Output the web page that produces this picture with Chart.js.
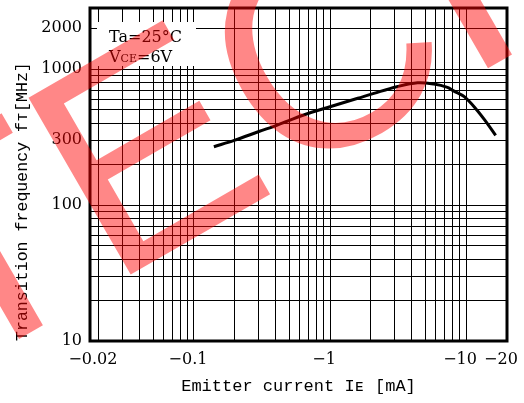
<!DOCTYPE html>
<html lang="es">
<head>
<meta charset="utf-8">
<title>fT vs IE</title>
<script src="https://cdn.jsdelivr.net/npm/chart.js@4.4.1/dist/chart.umd.min.js"></script>
<style>
  html, body { margin: 0; padding: 0; background: #fff; }
  #grafico { display: block; }
</style>
</head>
<body>
<canvas id="grafico" width="524" height="403"></canvas>
<script>
// Frecuencia de transición fT frente a corriente de emisor IE (Ta=25°C, VCE=6V).

// Corriente de emisor |IE| en mA (el eje la muestra con signo negativo).
const corrienteEmisor = [0.14, 0.2, 0.3, 0.41, 0.64, 1.0, 1.6, 2.1, 3.1, 4.4, 5.8, 7.3, 8.1, 9.7, 12, 14, 16.5];
// Frecuencia de transición en MHz.
const frecuenciaT = [268, 300, 347, 387, 459, 528, 609, 662, 741, 793, 776, 733, 690, 626, 500, 410, 325];

// Rejilla y etiquetas de los ejes.
const rejillaX = [0.02, 0.03, 0.04, 0.05, 0.06, 0.07, 0.08, 0.09, 0.1,
                  0.2, 0.3, 0.4, 0.5, 0.6, 0.7, 0.8, 0.9, 1,
                  2, 3, 4, 5, 6, 7, 8, 9, 10, 20];
const etiquetasX = [0.02, 0.1, 1, 10, 20];
const rejillaY = [10, 20, 30, 40, 50, 60, 70, 80, 90, 100,
                  200, 300, 400, 500, 600, 700, 800, 900, 1000, 2000];
const etiquetasY = [10, 100, 300, 1000, 2000];
const rangoX = [0.0172, 20];
const rangoY = [10, 2810];

const FUENTE_NUM = '"DejaVu Serif", serif';
const FUENTE_TIT = '"Liberation Mono", monospace';

// Marco grueso, recuadro con las condiciones de medida.
const marcoYLeyenda = {
  id: "marcoYLeyenda",
  beforeDatasetsDraw(chart) {
    const { ctx, chartArea: a } = chart;
    ctx.save();
    ctx.fillStyle = "#fff";
    ctx.fillRect(97, 22, 99, 44);

    ctx.fillStyle = "#000";
    ctx.textBaseline = "alphabetic";
    ctx.font = "16px " + FUENTE_NUM;
    ctx.fillText("Ta=25°C", 109, 42);
    let x = 109;
    ctx.fillText("V", x, 62);
    x += ctx.measureText("V").width;
    ctx.font = "11px " + FUENTE_NUM;
    ctx.fillText("CE", x, 62);
    x += ctx.measureText("CE").width;
    ctx.font = "16px " + FUENTE_NUM;
    ctx.fillText("=6V", x, 62);

    ctx.strokeStyle = "#000";
    ctx.lineWidth = 3;
    ctx.strokeRect(a.left, a.top, a.right - a.left, a.bottom - a.top);
    ctx.restore();
  },
};

// Sello rojo semitransparente encima del gráfico.
const marcaAgua = {
  id: "marcaAgua",
  afterDraw(chart) {
    const ctx = chart.ctx;
    ctx.save();
    ctx.translate(109.6, 286.8);
    ctx.rotate(-Math.PI / 6);
    ctx.font = '297px "Liberation Sans", Arial, sans-serif';
    ctx.fillStyle = "rgba(255,0,0,0.47)";
    ctx.textBaseline = "alphabetic";
    ctx.fillText("TECH", -ctx.measureText("T").width, 0);
    ctx.restore();
  },
};

const ctx = document.getElementById("grafico").getContext("2d");
new Chart(ctx, {
  type: "line",
  data: {
    datasets: [{
      data: corrienteEmisor.map((x, i) => ({ x, y: frecuenciaT[i] })),
      borderColor: "#000",
      borderWidth: 3,
      pointRadius: 0,
      tension: 0.35,
      fill: false,
    }],
  },
  options: {
    responsive: false,
    animation: false,
    devicePixelRatio: 1,
    layout: { padding: { top: 8, right: 17, left: 0, bottom: 0 } },
    plugins: { legend: { display: false }, tooltip: { enabled: false } },
    scales: {
      x: {
        type: "logarithmic",
        min: rangoX[0],
        max: rangoX[1],
        afterBuildTicks: (s) => { s.ticks = rejillaX.map((v) => ({ value: v })); },
        afterFit: (s) => {
          s.height = 62;
          s.paddingLeft = 0;
          s.paddingRight = 0;
        },
        grid: { color: "#000", lineWidth: 1, drawTicks: false },
        border: { display: false },
        ticks: {
          autoSkip: false,
          maxRotation: 0,
          minRotation: 0,
          padding: 9,
          labelOffset: -6,
          color: "#000",
          font: { family: FUENTE_NUM, size: 16 },
          callback: (v) => (etiquetasX.includes(v) ? "\u2212" + v : ""),
        },
        title: {
          display: true,
          text: "Emitter current I\u1D07 [mA]",
          color: "#000",
          font: { family: FUENTE_TIT, size: 17 },
          padding: { top: 0, bottom: 6 },
        },
      },
      y: {
        type: "logarithmic",
        min: rangoY[0],
        max: rangoY[1],
        afterBuildTicks: (s) => { s.ticks = rejillaY.map((v) => ({ value: v })); },
        afterFit: (s) => {
          s.width = 90;
          s.paddingTop = 0;
          s.paddingBottom = 0;
        },
        grid: { color: "#000", lineWidth: 1, drawTicks: false },
        border: { display: false },
        ticks: {
          autoSkip: false,
          padding: 8,
          color: "#000",
          font: { family: FUENTE_NUM, size: 16 },
          callback: (v) => (etiquetasY.includes(v) ? String(v) : ""),
        },
        title: {
          display: true,
          align: "start",
          text: "Transition frequency f\u1D1B[MHz]",
          color: "#000",
          font: { family: FUENTE_TIT, size: 16.6 },
          padding: { top: 13, bottom: 0 },
        },
      },
    },
  },
  plugins: [marcoYLeyenda, marcaAgua],
});
</script>
</body>
</html>
